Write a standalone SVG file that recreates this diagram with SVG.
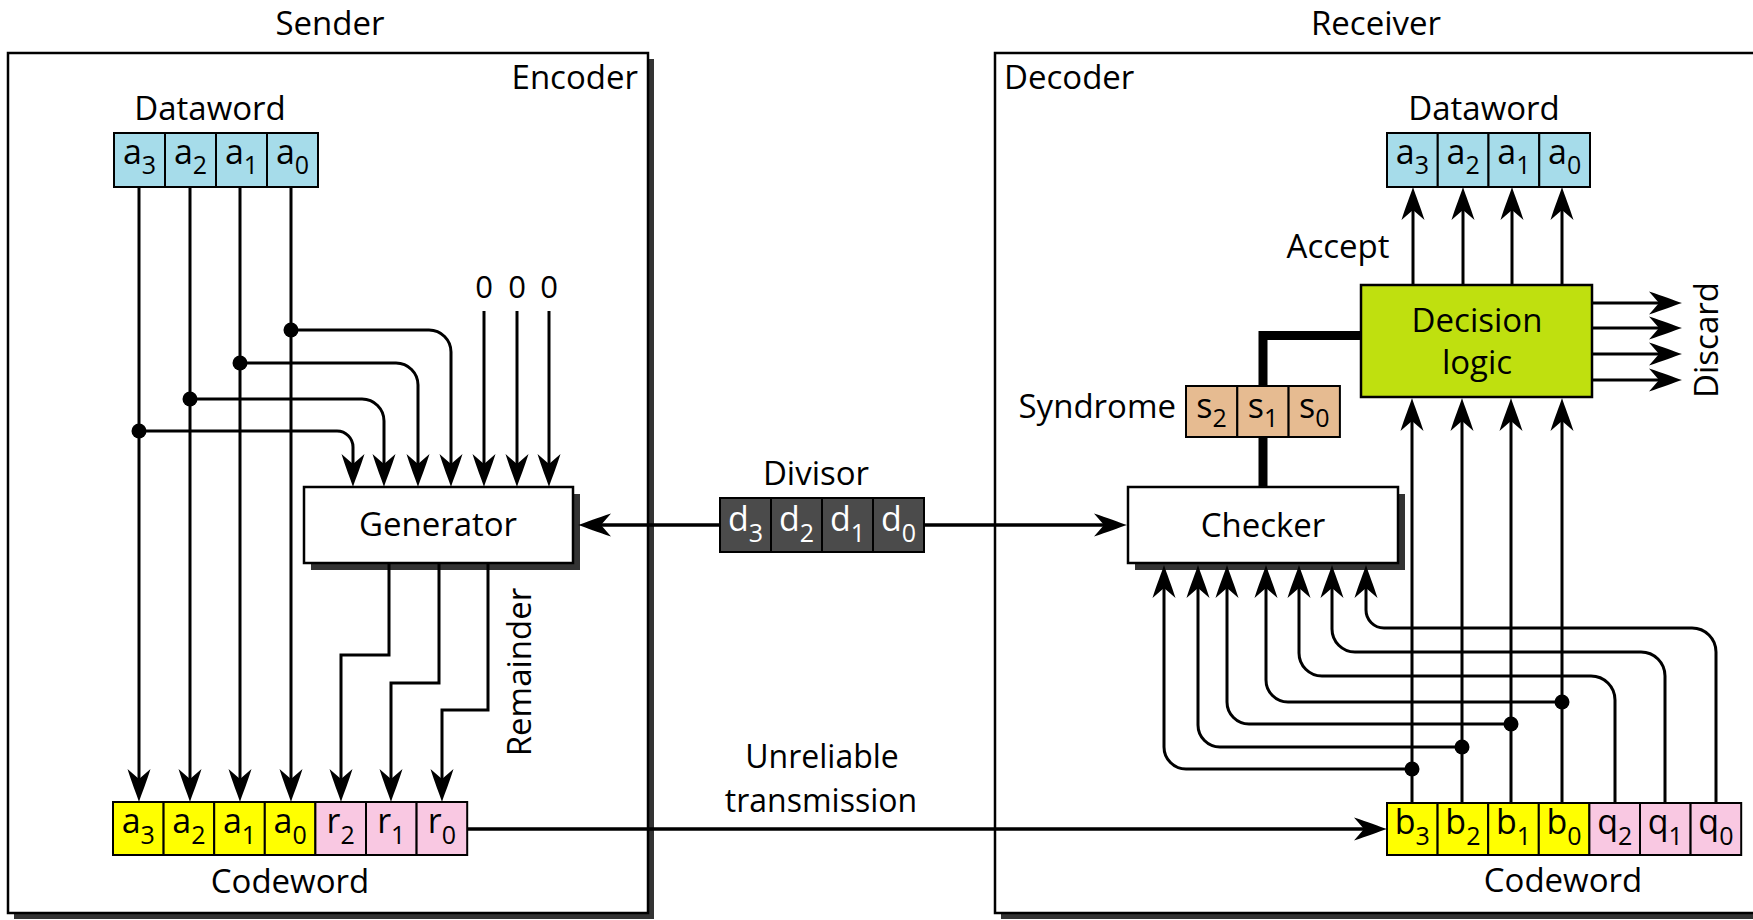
<svg xmlns="http://www.w3.org/2000/svg" width="1753" height="920" viewBox="0 0 1753 920">
<style>
text{font-family:"Open Sans","Liberation Sans",sans-serif;font-size:33px;fill:#000}
.c{text-anchor:middle}
.e{text-anchor:end}
.cl{font-size:34px;text-anchor:middle}
.sb{font-size:25px}
.w{fill:#fff}
.ln{fill:none;stroke:#000;stroke-width:3}
.ar{marker-end:url(#ah)}
.box{fill:#fff;stroke:#000;stroke-width:2.5}
.sh{fill:#333}
.cell{stroke:#000;stroke-width:2}
.blue{fill:#a6dcea}
.yel{fill:#ffff00}
.pink{fill:#f9c8e2}
.tan{fill:#e6bb91}
.dark{fill:#4b4b4b}
.lime{fill:#bfe00f;stroke:#000;stroke-width:2.5}
.dot{fill:#000}
.thick{fill:none;stroke:#000;stroke-width:9}
.tl{font-size:32px}
</style>
<defs>
<marker id="ah" markerUnits="userSpaceOnUse" markerWidth="36" markerHeight="26" viewBox="-34 -13 36 26" refX="-6" refY="0" orient="auto">
<path d="M0,0 C-8,-2.5 -20,-7.5 -33,-11.5 L-23,0 L-33,11.5 C-20,7.5 -8,2.5 0,0 Z" fill="#000"/>
</marker>
</defs>
<rect width="1753" height="920" fill="#fff"/>

<g id="sender">
<text class="c" x="330" y="35">Sender</text>
<rect class="sh" x="14" y="59" width="640" height="860"/>
<rect class="box" x="8" y="53" width="640" height="860"/>
<text class="e" x="638" y="89">Encoder</text>
</g>

<g id="receiver">
<text class="c" x="1376" y="35">Receiver</text>
<rect class="sh" x="1001" y="59" width="780" height="860"/>
<rect class="box" x="995" y="53" width="780" height="860"/>
<text x="1004" y="89">Decoder</text>
</g>

<g id="dataword-sender">
<text class="c" x="210" y="120">Dataword</text>
<rect class="cell blue" x="114" y="133" width="51" height="54"/>
<rect class="cell blue" x="165" y="133" width="51" height="54"/>
<rect class="cell blue" x="216" y="133" width="51" height="54"/>
<rect class="cell blue" x="267" y="133" width="51" height="54"/>
<text class="cl" x="139.5" y="164">a<tspan class="sb" dy="10">3</tspan></text>
<text class="cl" x="190.5" y="164">a<tspan class="sb" dy="10">2</tspan></text>
<text class="cl" x="241.5" y="164">a<tspan class="sb" dy="10">1</tspan></text>
<text class="cl" x="292.5" y="164">a<tspan class="sb" dy="10">0</tspan></text>
</g>

<g id="zeros">
<text class="c" x="484" y="298" style="font-size:31px">0</text>
<text class="c" x="517" y="298" style="font-size:31px">0</text>
<text class="c" x="549" y="298" style="font-size:31px">0</text>
</g>

<g id="generator">
<rect class="sh" x="311" y="494" width="269" height="76"/>
<rect class="box" x="304" y="487" width="269" height="76"/>
<text class="c" x="438" y="536">Generator</text>
</g>

<g id="remainder-label">
<text class="c" x="531" y="672" transform="rotate(-90 531 672)">Remainder</text>
</g>

<g id="codeword-sender">
<rect class="cell yel" x="113" y="802" width="50.6" height="53"/>
<rect class="cell yel" x="163.6" y="802" width="50.6" height="53"/>
<rect class="cell yel" x="214.2" y="802" width="50.6" height="53"/>
<rect class="cell yel" x="264.8" y="802" width="50.6" height="53"/>
<rect class="cell pink" x="315.4" y="802" width="50.6" height="53"/>
<rect class="cell pink" x="366" y="802" width="50.6" height="53"/>
<rect class="cell pink" x="416.6" y="802" width="50.6" height="53"/>
<text class="cl" x="138.3" y="833">a<tspan class="sb" dy="11">3</tspan></text>
<text class="cl" x="188.9" y="833">a<tspan class="sb" dy="11">2</tspan></text>
<text class="cl" x="239.5" y="833">a<tspan class="sb" dy="11">1</tspan></text>
<text class="cl" x="290.1" y="833">a<tspan class="sb" dy="11">0</tspan></text>
<text class="cl" x="340.7" y="833">r<tspan class="sb" dy="11">2</tspan></text>
<text class="cl" x="391.3" y="833">r<tspan class="sb" dy="11">1</tspan></text>
<text class="cl" x="441.9" y="833">r<tspan class="sb" dy="11">0</tspan></text>
<text class="c" x="290" y="893">Codeword</text>
</g>

<g id="divisor">
<text class="c" x="816" y="485">Divisor</text>
<rect class="cell dark" x="720" y="498" width="51" height="54"/>
<rect class="cell dark" x="771" y="498" width="51" height="54"/>
<rect class="cell dark" x="822" y="498" width="51" height="54"/>
<rect class="cell dark" x="873" y="498" width="51" height="54"/>
<text class="cl w" x="745.5" y="531">d<tspan class="sb w" dy="11">3</tspan></text>
<text class="cl w" x="796.5" y="531">d<tspan class="sb w" dy="11">2</tspan></text>
<text class="cl w" x="847.5" y="531">d<tspan class="sb w" dy="11">1</tspan></text>
<text class="cl w" x="898.5" y="531">d<tspan class="sb w" dy="11">0</tspan></text>
</g>

<g id="transmission-label">
<text class="c tl" x="822" y="768">Unreliable</text>
<text class="c tl" x="821" y="812">transmission</text>
</g>

<g id="dataword-receiver">
<text class="c" x="1484" y="120">Dataword</text>
<rect class="cell blue" x="1387" y="133" width="50.75" height="54"/>
<rect class="cell blue" x="1437.75" y="133" width="50.75" height="54"/>
<rect class="cell blue" x="1488.5" y="133" width="50.75" height="54"/>
<rect class="cell blue" x="1539.25" y="133" width="50.75" height="54"/>
<text class="cl" x="1412.4" y="164">a<tspan class="sb" dy="10">3</tspan></text>
<text class="cl" x="1463.1" y="164">a<tspan class="sb" dy="10">2</tspan></text>
<text class="cl" x="1513.9" y="164">a<tspan class="sb" dy="10">1</tspan></text>
<text class="cl" x="1564.6" y="164">a<tspan class="sb" dy="10">0</tspan></text>
</g>

<g id="accept-label">
<text class="c" x="1338" y="258">Accept</text>
</g>

<g id="decision-logic">
<rect class="lime" x="1361" y="285" width="231" height="112"/>
<text class="c" x="1477" y="332">Decision</text>
<text class="c" x="1477" y="374">logic</text>
</g>

<g id="discard-label">
<text class="c" x="1718" y="340" transform="rotate(-90 1718 340)">Discard</text>
</g>

<g id="syndrome">
<text class="e" x="1176" y="418">Syndrome</text>
<rect class="cell tan" x="1186" y="386" width="51.3" height="51"/>
<rect class="cell tan" x="1237.3" y="386" width="51.3" height="51"/>
<rect class="cell tan" x="1288.6" y="386" width="51.3" height="51"/>
<text class="cl" x="1211.6" y="418">s<tspan class="sb" dy="9">2</tspan></text>
<text class="cl" x="1263" y="418">s<tspan class="sb" dy="9">1</tspan></text>
<text class="cl" x="1314.2" y="418">s<tspan class="sb" dy="9">0</tspan></text>
</g>

<g id="checker">
<rect class="sh" x="1135" y="494" width="270" height="76"/>
<rect class="box" x="1128" y="487" width="270" height="76"/>
<text class="c" x="1263" y="537">Checker</text>
</g>

<g id="codeword-receiver">
<rect class="cell yel" x="1387" y="803" width="50.6" height="52"/>
<rect class="cell yel" x="1437.6" y="803" width="50.6" height="52"/>
<rect class="cell yel" x="1488.2" y="803" width="50.6" height="52"/>
<rect class="cell yel" x="1538.8" y="803" width="50.6" height="52"/>
<rect class="cell pink" x="1589.4" y="803" width="50.6" height="52"/>
<rect class="cell pink" x="1640" y="803" width="50.6" height="52"/>
<rect class="cell pink" x="1690.6" y="803" width="50.6" height="52"/>
<text class="cl" x="1412.3" y="834">b<tspan class="sb" dy="11">3</tspan></text>
<text class="cl" x="1462.9" y="834">b<tspan class="sb" dy="11">2</tspan></text>
<text class="cl" x="1513.5" y="834">b<tspan class="sb" dy="11">1</tspan></text>
<text class="cl" x="1564.1" y="834">b<tspan class="sb" dy="11">0</tspan></text>
<text class="cl" x="1614.7" y="834">q<tspan class="sb" dy="11">2</tspan></text>
<text class="cl" x="1665.3" y="834">q<tspan class="sb" dy="11">1</tspan></text>
<text class="cl" x="1715.9" y="834">q<tspan class="sb" dy="11">0</tspan></text>
<text class="c" x="1563" y="892">Codeword</text>
</g>

<g id="connectors">
<path class="ln ar" d="M139 187 V796"/>
<path class="ln ar" d="M190 187 V796"/>
<path class="ln ar" d="M240 187 V796"/>
<path class="ln ar" d="M291 187 V796"/>
<path class="ln ar" d="M291 330 H429 A22 22 0 0 1 451 352 V481"/>
<path class="ln ar" d="M240 363 H396 A22 22 0 0 1 418 385 V481"/>
<path class="ln ar" d="M190 399 H362 A22 22 0 0 1 384 421 V481"/>
<path class="ln ar" d="M139 431 H337 A16 16 0 0 1 353 447 V481"/>
<circle class="dot" cx="291" cy="330" r="7.5"/>
<circle class="dot" cx="240" cy="363" r="7.5"/>
<circle class="dot" cx="190" cy="399" r="7.5"/>
<circle class="dot" cx="139" cy="431" r="7.5"/>
<path class="ln ar" d="M484 311 V481"/>
<path class="ln ar" d="M517 311 V481"/>
<path class="ln ar" d="M549 311 V481"/>
<path class="ln ar" d="M389 563 V655 H341 V796"/>
<path class="ln ar" d="M439 563 V683 H391 V796"/>
<path class="ln ar" d="M488 563 V710 H442 V796"/>
<path class="ln ar" d="M720 525 H584" style="stroke-width:3.5"/>
<path class="ln ar" d="M924 525 H1121" style="stroke-width:3.5"/>
<path class="ln ar" d="M467 829 H1381" style="stroke-width:3.5"/>
<path class="thick" d="M1263 386 V335.5 H1361"/>
<path class="thick" d="M1263 437 V487"/>
<path class="ln ar" d="M1412 803 V404"/>
<path class="ln ar" d="M1462 803 V404"/>
<path class="ln ar" d="M1511 803 V404"/>
<path class="ln ar" d="M1562 803 V404"/>
<path class="ln ar" d="M1413 285 V193"/>
<path class="ln ar" d="M1463 285 V193"/>
<path class="ln ar" d="M1512 285 V193"/>
<path class="ln ar" d="M1562 285 V193"/>
<path class="ln ar" d="M1592 303 H1676"/>
<path class="ln ar" d="M1592 328 H1676"/>
<path class="ln ar" d="M1592 354 H1676"/>
<path class="ln ar" d="M1592 380 H1676"/>
<path class="ln ar" d="M1412 769 H1186 A22 22 0 0 1 1164 747 V571"/>
<path class="ln ar" d="M1462 747 H1220 A22 22 0 0 1 1198 725 V571"/>
<path class="ln ar" d="M1511 724 H1249 A22 22 0 0 1 1227 702 V571"/>
<path class="ln ar" d="M1562 702 H1288 A22 22 0 0 1 1266 680 V571"/>
<path class="ln ar" d="M1615 803 V700 A24 24 0 0 0 1591 676 H1322 A23 23 0 0 1 1299 653 V571"/>
<path class="ln ar" d="M1665 803 V676 A24 24 0 0 0 1641 652 H1355 A23 23 0 0 1 1332 629 V571"/>
<path class="ln ar" d="M1716 803 V652 A24 24 0 0 0 1692 628 H1384 A18 18 0 0 1 1366 610 V571"/>
<circle class="dot" cx="1412" cy="769" r="7.5"/>
<circle class="dot" cx="1462" cy="747" r="7.5"/>
<circle class="dot" cx="1511" cy="724" r="7.5"/>
<circle class="dot" cx="1562" cy="702" r="7.5"/>
</g>
</svg>
